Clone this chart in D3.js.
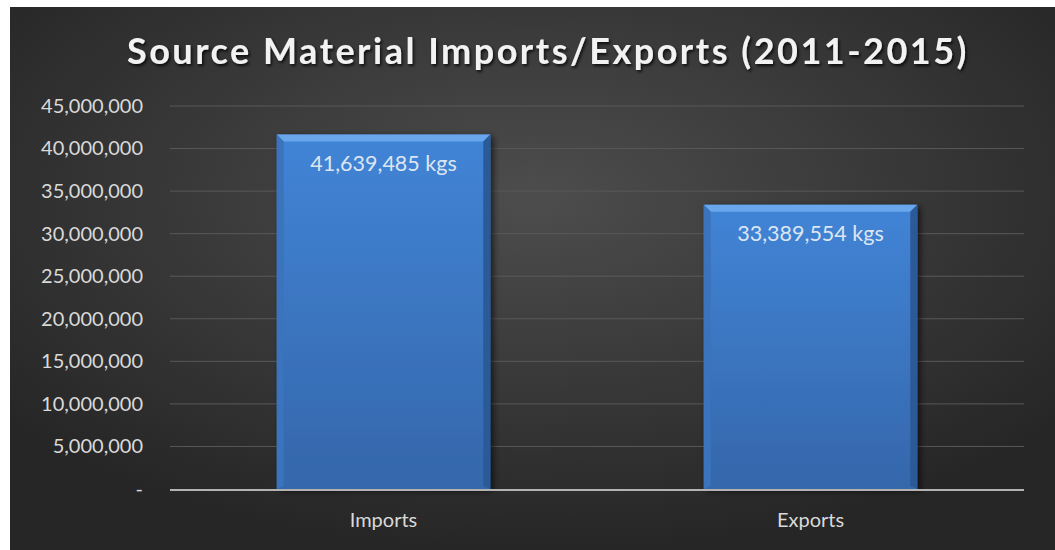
<!DOCTYPE html>
<html>
<head>
<meta charset="utf-8">
<script src="https://cdn.jsdelivr.net/npm/d3@7"></script>
<style>
  body { margin: 0; background: #fff; }
  svg { display: block; }
</style>
</head>
<body>
<div id="chart"></div>
<script>
// data
let categories = ["Imports", "Exports"],
    values = [41639485, 33389554],
    valueLabels = ["41,639,485 kgs", "33,389,554 kgs"],
    yTicks = [0, 5000000, 10000000, 15000000, 20000000, 25000000, 30000000, 35000000, 40000000, 45000000];

let width = 1055,
    height = 550,
    margin = { top: 106, right: 31, bottom: 61, left: 170 };

let svg = d3.select("#chart").append("svg")
    .attr("width", width)
    .attr("height", height);

let defs = svg.append("defs");

// background gradient
let bg = defs.append("radialGradient")
    .attr("id", "bgGrad")
    .attr("cx", "50%").attr("cy", "35%").attr("r", "65%");
bg.append("stop").attr("offset", "0%").attr("stop-color", "#4d4d4d");
bg.append("stop").attr("offset", "100%").attr("stop-color", "#262626");

let barGrad = defs.append("linearGradient")
    .attr("id", "barGrad")
    .attr("x1", 0).attr("y1", 0).attr("x2", 0).attr("y2", 1);
barGrad.append("stop").attr("offset", "0%").attr("stop-color", "#4184d6");
barGrad.append("stop").attr("offset", "100%").attr("stop-color", "#3567ab");

let shadow = defs.append("filter").attr("id", "txtShadow");
shadow.append("feDropShadow")
    .attr("dx", 1.5).attr("dy", 2).attr("stdDeviation", 1.5)
    .attr("flood-color", "#000").attr("flood-opacity", 0.8);

let barShadow = defs.append("filter").attr("id", "barShadow")
    .attr("x", "-10%").attr("y", "-10%").attr("width", "130%").attr("height", "130%");
barShadow.append("feDropShadow")
    .attr("dx", 3).attr("dy", 2).attr("stdDeviation", 3)
    .attr("flood-color", "#000").attr("flood-opacity", 0.6);

// background
svg.append("rect")
    .attr("x", 10).attr("y", 7)
    .attr("width", width - 10).attr("height", height - 7)
    .attr("fill", "url(#bgGrad)");

// title
svg.append("text")
    .attr("x", 548)
    .attr("y", 64)
    .attr("text-anchor", "middle")
    .attr("font-family", "Lato, 'Open Sans', sans-serif")
    .attr("font-weight", "bold")
    .attr("font-size", 36)
    .attr("letter-spacing", 2.5)
    .attr("fill", "#f2f2f2")
    .attr("filter", "url(#txtShadow)")
    .text("Source Material Imports/Exports (2011-2015)");

// scales
let x = d3.scaleBand()
    .domain(categories)
    .range([margin.left, width - margin.right])
    .paddingInner(0.5)
    .paddingOuter(0.25);
let y = d3.scaleLinear()
    .domain([0, 45000000])
    .range([height - margin.bottom, margin.top]);

// gridlines
svg.append("g")
    .selectAll("line")
    .data(yTicks.slice(1))
    .enter()
    .append("line")
    .attr("x1", margin.left)
    .attr("x2", width - margin.right)
    .attr("y1", d => y(d))
    .attr("y2", d => y(d))
    .attr("stroke", "#595959")
    .attr("stroke-width", 1);

// y axis
let yAxis = d3.axisLeft(y)
    .tickValues(yTicks)
    .tickSize(0)
    .tickPadding(0)
    .tickFormat(d => d === 0 ? "-" : d3.format(",")(d));
let yg = svg.append("g")
    .attr("transform", "translate(143,0)")
    .call(yAxis);
yg.select(".domain").remove();
yg.selectAll("text")
    .attr("font-family", "Lato, 'Open Sans', sans-serif")
    .attr("font-size", 20)
    .attr("fill", "#d9d9d9");

// bars
let bw = x.bandwidth(),
    bev = 7;
let bars = svg.append("g")
    .selectAll("g")
    .data(values)
    .enter()
    .append("g")
    .attr("filter", "url(#barShadow)");
bars.append("rect")
    .attr("x", (d, i) => x(categories[i]))
    .attr("y", d => y(d))
    .attr("width", bw)
    .attr("height", d => y(0) - y(d))
    .attr("fill", "url(#barGrad)");
// top bevel
bars.append("path")
    .attr("d", (d, i) => {
        let x0 = x(categories[i]), y0 = y(d);
        return "M" + x0 + "," + y0 + "L" + (x0 + bw) + "," + y0 +
            "L" + (x0 + bw - bev) + "," + (y0 + bev) + "L" + (x0 + bev) + "," + (y0 + bev) + "Z";
    })
    .attr("fill", "#69a6ec");
// left bevel
bars.append("path")
    .attr("d", (d, i) => {
        let x0 = x(categories[i]), y0 = y(d), y1 = y(0);
        return "M" + x0 + "," + y0 + "L" + (x0 + bev) + "," + (y0 + bev) +
            "L" + (x0 + bev) + "," + (y1 - 3) + "L" + x0 + "," + y1 + "Z";
    })
    .attr("fill", "#3a73bd");
// right bevel
bars.append("path")
    .attr("d", (d, i) => {
        let x0 = x(categories[i]) + bw, y0 = y(d), y1 = y(0);
        return "M" + x0 + "," + y0 + "L" + (x0 - bev) + "," + (y0 + bev) +
            "L" + (x0 - bev) + "," + (y1 - 3) + "L" + x0 + "," + y1 + "Z";
    })
    .attr("fill", "#2c5a98");

// value labels
svg.append("g")
    .selectAll("text")
    .data(values)
    .enter()
    .append("text")
    .attr("x", (d, i) => x(categories[i]) + bw / 2)
    .attr("y", d => y(d) + 36)
    .attr("text-anchor", "middle")
    .attr("font-family", "Lato, 'Open Sans', sans-serif")
    .attr("font-size", 21.5)
    .attr("fill", "#dce6f2")
    .text((d, i) => valueLabels[i]);

// baseline
svg.append("line")
    .attr("x1", margin.left)
    .attr("x2", width - margin.right)
    .attr("y1", y(0) + 1)
    .attr("y2", y(0) + 1)
    .attr("stroke", "#b3b3b3")
    .attr("stroke-width", 2);

// x labels
let xAxis = d3.axisBottom(x).tickSize(0).tickPadding(0);
let xg = svg.append("g")
    .attr("transform", "translate(0," + (y(0) + 38) + ")")
    .call(xAxis);
xg.select(".domain").remove();
xg.selectAll("text")
    .attr("dy", 0)
    .attr("font-family", "Lato, 'Open Sans', sans-serif")
    .attr("font-size", 20)
    .attr("fill", "#d9d9d9");
</script>
</body>
</html>
